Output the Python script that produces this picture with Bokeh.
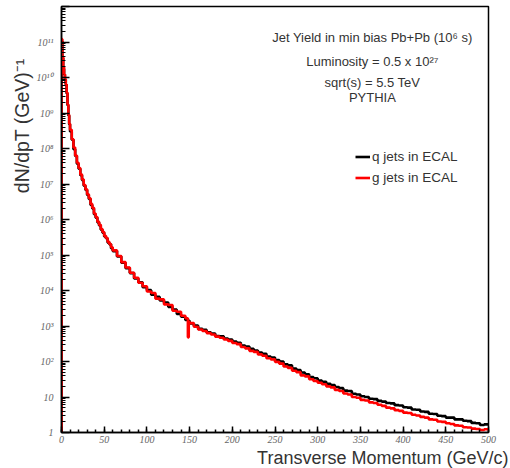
from bokeh.plotting import figure
from bokeh.models import FixedTicker, CustomJSTickFormatter, Label, Range1d, Legend, LegendItem, Title
from bokeh.embed import file_html
from bokeh.resources import INLINE

# ---- data (yields stored as log10 of dN/dpT) ----
pt_edges = (list(range(0, 11, 1)) + list(range(12, 61, 2)) + list(range(65, 146, 5))
            + [148, 149, 150] + list(range(155, 501, 5)))

q_log10 = [
    # 0-10 GeV, 1 GeV bins
    11.02, 10.55, 10.25, 10.08, 9.93, 9.80, 9.55, 9.22, 8.93, 8.68,
    # 10-60 GeV, 2 GeV bins
    8.48, 8.25, 7.98, 7.79, 7.57, 7.43, 7.25, 7.11, 6.95, 6.83,
    6.69, 6.58, 6.41, 6.31, 6.15, 6.05, 5.92, 5.83, 5.71, 5.63,
    5.52, 5.47, 5.35, 5.30, 5.19,
    # 60-145 GeV, 5 GeV bins
    5.11, 4.96, 4.78, 4.63, 4.49, 4.34, 4.23, 4.09, 4.01, 3.88,
    3.82, 3.72, 3.66, 3.54, 3.46, 3.34, 3.26,
    # 145-148, 148-149, 149-150
    3.17, 3.14, 3.15,
    # 150-500 GeV, 5 GeV bins
    3.07, 3.01,
    2.92, 2.89, 2.82, 2.79, 2.72, 2.71, 2.65, 2.62, 2.56, 2.53,
    2.45, 2.42, 2.36, 2.31, 2.25, 2.22, 2.14, 2.11, 2.04, 2.00,
    1.92, 1.89, 1.80, 1.76, 1.69, 1.64, 1.56, 1.53, 1.46, 1.43,
    1.37, 1.34, 1.28, 1.25, 1.18, 1.17, 1.09, 1.07, 1.02, 1.00,
    0.95, 0.94, 0.89, 0.87, 0.83, 0.82, 0.77, 0.76, 0.71, 0.70,
    0.65, 0.64, 0.59, 0.58, 0.53, 0.52, 0.47, 0.46, 0.42, 0.42,
    0.37, 0.37, 0.33, 0.32, 0.27, 0.26, 0.21, 0.23,
]

g_log10 = [
    11.08, 10.60, 10.30, 10.10, 9.95, 9.82, 9.58, 9.25, 8.95, 8.70,
    8.53, 8.26, 8.03, 7.80, 7.60, 7.45, 7.27, 7.13, 6.97, 6.85,
    6.71, 6.60, 6.44, 6.33, 6.17, 6.07, 5.94, 5.85, 5.73, 5.65,
    5.54, 5.48, 5.37, 5.31, 5.22,
    5.13, 4.97, 4.80, 4.65, 4.50, 4.36, 4.22, 4.12, 3.97, 3.93,
    3.77, 3.75, 3.61, 3.59, 3.43, 3.40, 3.29,
    3.22, 2.68, 3.12,
    3.08, 2.98,
    2.90, 2.86, 2.80, 2.76, 2.70, 2.67, 2.62, 2.58, 2.52, 2.49,
    2.41, 2.37, 2.30, 2.27, 2.20, 2.16, 2.09, 2.06, 1.99, 1.94,
    1.86, 1.82, 1.74, 1.70, 1.61, 1.58, 1.50, 1.45, 1.40, 1.36,
    1.30, 1.27, 1.20, 1.17, 1.10, 1.07, 1.00, 0.98, 0.92, 0.90,
    0.85, 0.83, 0.78, 0.75, 0.70, 0.68, 0.63, 0.61, 0.56, 0.55,
    0.50, 0.48, 0.44, 0.42, 0.37, 0.36, 0.31, 0.30, 0.26, 0.24,
    0.20, 0.19, 0.15, 0.14, 0.11, 0.10, 0.07, 0.09,
]

x_ticks = list(range(0, 501, 50))
x_minor = list(range(0, 501, 10))
y_decades = list(range(0, 13))

series_names = ["q jets in ECAL", "g jets in ECAL"]
info_lines = ["Jet Yield in min bias Pb+Pb (10\u2076 s)",
              "Luminosity = 0.5 x 10\u00b2\u2077",
              "sqrt(s) = 5.5 TeV",
              "PYTHIA"]
x_title = "Transverse Momentum (GeV/c)"
y_title = "dN/dpT   (GeV)\u207b\u00b9"

# ---- figure ----
p = figure(width=510, height=468, y_axis_type="log",
           x_range=Range1d(0, 500), y_range=Range1d(1, 1e12),
           output_backend="svg", toolbar_location=None,
           min_border_left=61, min_border_right=22,
           min_border_top=6, min_border_bottom=36)
p.grid.visible = False
p.outline_line_color = "black"
p.outline_line_width = 1.5
p.background_fill_color = "white"
p.border_fill_color = "white"

def step_xy(edges, logs):
    vals = [10 ** v for v in logs]
    return [edges[0]] + edges, [1] + vals + [vals[-1]]

qx, qy = step_xy(pt_edges, q_log10)
gx, gy = step_xy(pt_edges, g_log10)
rq = p.step(x=qx, y=qy, mode="after", line_color="black", line_width=2.6)
rg = p.step(x=gx, y=gy, mode="after", line_color="#ff0000", line_width=2.6)

# axes
xa = p.xaxis[0]
xa.ticker = FixedTicker(ticks=x_ticks, minor_ticks=x_minor)
xa.major_tick_in = 6
xa.major_tick_out = 0
xa.minor_tick_in = 3
xa.minor_tick_out = 0
xa.axis_line_width = 1.5
xa.major_tick_line_width = 1.5
xa.minor_tick_line_width = 1.5
xa.major_label_text_font = "Liberation Serif"
xa.major_label_text_font_style = "italic"
xa.major_label_text_font_size = "10px"
xa.major_label_text_color = "#666666"
xa.major_label_standoff = 3

ya = p.yaxis[0]
ya.ticker = FixedTicker(ticks=[10 ** k for k in y_decades],
                        minor_ticks=[m * 10 ** k for k in y_decades[:-1] for m in range(2, 10)])
ya.major_tick_in = 8
ya.major_tick_out = 0
ya.minor_tick_in = 4
ya.minor_tick_out = 0
ya.axis_line_width = 1.5
ya.major_tick_line_width = 1.5
ya.minor_tick_line_width = 1.0
ya.major_label_text_font = "Liberation Serif"
ya.major_label_text_font_style = "italic"
ya.major_label_text_font_size = "10px"
ya.major_label_text_color = "#666666"
ya.major_label_standoff = 8
ya.formatter = CustomJSTickFormatter(code="""
const e = Math.round(Math.log10(tick));
if (e >= 12) return "";
if (e == 0) return "1";
if (e == 1) return "10";
const sup = {"0":"\u2070","1":"\u00b9","2":"\u00b2","3":"\u00b3","4":"\u2074",
             "5":"\u2075","6":"\u2076","7":"\u2077","8":"\u2078","9":"\u2079"};
return "10" + String(e).split("").map(c => sup[c]).join("");
""")

# axis titles as side titles
p.add_layout(Title(text=x_title, align="right", offset=-20, standoff=0,
                   text_font="Liberation Sans", text_font_style="normal",
                   text_font_size="18px", text_color="#333333"), "below")
p.add_layout(Title(text=y_title, align="right", offset=41, standoff=2,
                   text_font="Liberation Sans", text_font_style="normal",
                   text_font_size="19.5px", text_color="#333333"), "left")

# info text
for txt, ly in zip(info_lines, [11.13, 10.45, 9.86, 9.44]):
    p.add_layout(Label(x=364, y=10 ** ly, text=txt, text_align="center", text_baseline="middle",
                       text_font="Liberation Sans", text_font_size="13px", text_color="#333333"))

legend = Legend(items=[LegendItem(label=series_names[0], renderers=[rq]),
                       LegendItem(label=series_names[1], renderers=[rg])],
                location=(294, 244), padding=0, margin=0, spacing=0,
                glyph_width=15, glyph_height=21, label_height=21, label_standoff=2,
                label_text_font="Liberation Sans", label_text_font_size="13.5px",
                label_text_color="#333333", border_line_color=None,
                background_fill_alpha=0)
p.add_layout(legend)

open("out.html", "w").write(file_html(p, INLINE))
